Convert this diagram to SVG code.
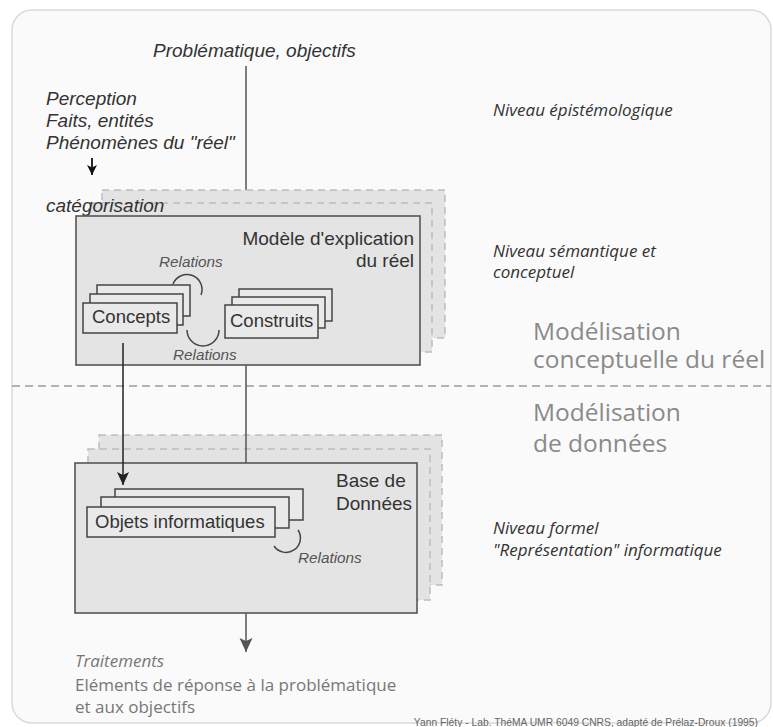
<svg xmlns="http://www.w3.org/2000/svg" width="773" height="727" viewBox="0 0 773 727">
<style>
.it{font-family:"Liberation Sans",Arial,sans-serif;font-style:italic;fill:#333;font-size:19px}
.rg{font-family:"Liberation Sans",Arial,sans-serif;fill:#333;font-size:19px}
.cl{font-family:"Liberation Sans",Arial,sans-serif;fill:#333;font-size:18.5px}
.rel{font-family:"Liberation Sans",Arial,sans-serif;font-style:italic;fill:#555;font-size:15.3px}
.my{font-family:"Open Sans","Noto Sans",sans-serif;fill:#333;font-style:italic;font-size:17px}
.big{font-family:"Open Sans","Noto Sans",sans-serif;fill:#8a8a8a;font-size:24.5px}
.low{font-family:"Open Sans","Noto Sans",sans-serif;fill:#777;font-size:17px}
.ghost{fill:#e3e3e3;stroke:#bdbdbd;stroke-width:1.5;stroke-dasharray:7 5}
.main{fill:#e4e4e4;stroke:#555;stroke-width:1.6}
.card{fill:#e9e9e9;stroke:#444;stroke-width:1.5}
.arc{fill:none;stroke:#444;stroke-width:1.5}
.line{stroke:#555;stroke-width:1.5;fill:none}
</style>
<defs>
<marker id="ah" markerUnits="userSpaceOnUse" markerWidth="14" markerHeight="14" refX="13" refY="7" orient="auto">
<path d="M0,1 L13,7 L0,13 L3,7 z" fill="#222"/>
</marker>
<marker id="ahs" markerUnits="userSpaceOnUse" markerWidth="12" markerHeight="12" refX="10" refY="6" orient="auto">
<path d="M0,1 L10,6 L0,11 L2.5,6 z" fill="#111"/>
</marker>
<marker id="ahg" markerUnits="userSpaceOnUse" markerWidth="16" markerHeight="14" refX="14" refY="7" orient="auto">
<path d="M0,0.5 L14,7 L0,13.5 L3,7 z" fill="#555"/>
</marker>
</defs>

<g id="frame">
<rect x="12" y="10" width="759" height="713" rx="20" fill="#fafafa" stroke="#dadada" stroke-width="1.5"/>
<line x1="12" y1="386" x2="771" y2="386" stroke="#9a9a9a" stroke-width="1.5" stroke-dasharray="8 5"/>
</g>

<g id="labels-top">
<text class="it" x="153" y="57">Problématique, objectifs</text>
<text class="it" x="46" y="105">Perception</text>
<text class="it" x="46" y="127">Faits, entités</text>
<text class="it" x="46" y="149">Phénomènes du "réel"</text>
</g>

<g id="niveaux">
<text class="my" x="493" y="116">Niveau épistémologique</text>
<text class="my" x="493" y="257">Niveau sémantique et</text>
<text class="my" x="493" y="278">conceptuel</text>
<text class="my" x="493" y="534">Niveau formel</text>
<text class="my" x="493" y="556">"Représentation" informatique</text>
</g>

<g id="modelisation">
<text class="big" x="533" y="340">Modélisation</text>
<text class="big" x="533" y="368">conceptuelle du réel</text>
<text class="big" x="533" y="421">Modélisation</text>
<text class="big" x="533" y="452">de données</text>
</g>

<g id="connectors-top">
<line class="line" x1="246" y1="66" x2="246" y2="190"/>
<line x1="92" y1="158" x2="92" y2="175" stroke="#111" stroke-width="1.8" marker-end="url(#ahs)"/>
</g>

<g id="modele">
<rect class="ghost" x="102" y="190" width="343" height="148"/>
<rect class="ghost" x="89" y="203" width="343" height="149"/>
<text class="it" x="46" y="212">catégorisation</text>
<rect class="main" x="76" y="216" width="344" height="149"/>
<text class="rg" x="414" y="245" text-anchor="end">Modèle d'explication</text>
<text class="rg" x="414" y="267" text-anchor="end">du réel</text>
</g>

<g id="concepts">
<rect class="card" x="97" y="285" width="93" height="31"/>
<rect class="card" x="90" y="294" width="93" height="31"/>
<rect class="card" x="83" y="303" width="94" height="30"/>
<text class="cl" x="92" y="323">Concepts</text>
</g>

<g id="construits">
<rect class="card" x="239" y="289" width="93" height="32"/>
<rect class="card" x="232" y="297" width="93" height="31"/>
<rect class="card" x="225" y="305" width="93" height="33"/>
<text class="cl" x="230" y="327">Construits</text>
</g>

<g id="relations-modele">
<path class="arc" d="M173,284 A14.5,14.5 0 1 1 201,295"/>
<text class="rel" x="159" y="267">Relations</text>
<path class="arc" d="M187,330 A16,16 0 0 0 219,330"/>
<text class="rel" x="173" y="360">Relations</text>
</g>

<g id="bdd">
<rect class="ghost" x="99" y="435" width="343" height="150"/>
<rect class="ghost" x="88" y="449" width="342" height="151"/>
<rect class="main" x="75" y="463" width="342" height="150"/>
<text class="rg" x="336" y="487">Base de</text>
<text class="rg" x="336" y="510">Données</text>
</g>

<g id="objets">
<rect class="card" x="115" y="489" width="188" height="31"/>
<rect class="card" x="101" y="497" width="188" height="31"/>
<rect class="card" x="87" y="507" width="188" height="30"/>
<text class="cl" x="95" y="528">Objets informatiques</text>
<path class="arc" d="M298,530 A14,14 0 0 1 274,546"/>
<text class="rel" x="298" y="563">Relations</text>
</g>

<g id="connectors">
<line class="line" x1="246" y1="365" x2="246" y2="463"/>
<line x1="123" y1="343" x2="123" y2="485" stroke="#222" stroke-width="1.5" marker-end="url(#ah)"/>
<line x1="246" y1="613" x2="246" y2="652" stroke="#555" stroke-width="1.5" marker-end="url(#ahg)"/>
</g>

<g id="sortie">
<text class="low" x="75" y="667" font-style="italic">Traitements</text>
<text class="low" x="75" y="691">Eléments de réponse à la problématique</text>
<text class="low" x="75" y="713">et aux objectifs</text>
<text x="758" y="726" text-anchor="end" font-family="Liberation Sans, Arial, sans-serif" font-size="10.3" fill="#666">Yann Fléty - Lab. ThéMA UMR 6049 CNRS, adapté de Prélaz-Droux (1995)</text>
</g>
</svg>
